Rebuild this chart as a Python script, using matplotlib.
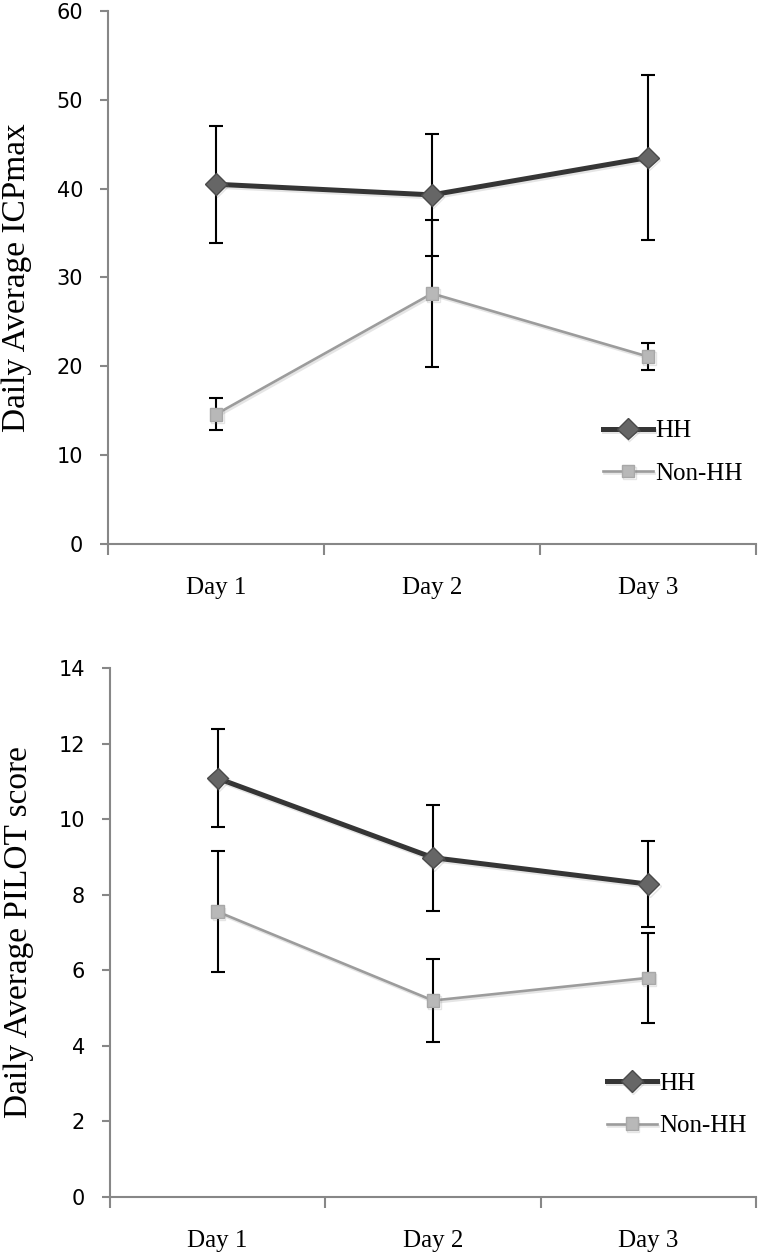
import matplotlib
matplotlib.use("Agg")
import matplotlib.pyplot as plt
import matplotlib.patheffects as pe

# Values (mean and error half-width)
days = ["Day 1", "Day 2", "Day 3"]

icp_hh = [40.5, 39.3, 43.5]
icp_hh_err = [6.6, 6.9, 9.3]
icp_non = [14.6, 28.2, 21.1]
icp_non_err = [1.8, 8.3, 1.5]

pilot_hh = [11.08, 8.98, 8.28]
pilot_hh_err = [1.3, 1.4, 1.13]
pilot_non = [7.55, 5.2, 5.8]
pilot_non_err = [1.6, 1.1, 1.2]

icp_ticks = [0, 10, 20, 30, 40, 50, 60]
pilot_ticks = [0, 2, 4, 6, 8, 10, 12, 14]

serif = ["Liberation Serif", "DejaVu Serif"]
axis_grey = "#878787"

fig = plt.figure(figsize=(7.6, 12.55), dpi=100)

ax1 = fig.add_axes([108/760, 1 - 544/1255, (756 - 108)/760, (544 - 11)/1255])
ax2 = fig.add_axes([110/760, 1 - 1197/1255, (756 - 110)/760, (1197 - 668)/1255])


def draw_panel(ax, hh, hh_err, non, non_err, ticks, ylabel, label_x, leg_anchor):
    x = list(range(1, len(days) + 1))
    shadow = [pe.SimpleLineShadow(offset=(1, -1.5), shadow_color="grey", alpha=0.2), pe.Normal()]

    # error bars underneath the lines
    ax.errorbar(x, hh, yerr=hh_err, fmt="none", ecolor="black",
                elinewidth=1.5, capsize=5, capthick=1.5, zorder=2)
    ax.errorbar(x, non, yerr=non_err, fmt="none", ecolor="black",
                elinewidth=1.5, capsize=5, capthick=1.5, zorder=2)

    ax.plot(x, hh, color="#353535", lw=3.6, marker="D", markersize=11,
            markerfacecolor="#666666", markeredgecolor="#4a4a4a", markeredgewidth=1,
            label="HH", zorder=4, path_effects=shadow)
    ax.plot(x, non, color="#9c9c9c", lw=1.9, marker="s", markersize=9,
            markerfacecolor="#b8b8b8", markeredgecolor="#a8a8a8", markeredgewidth=1,
            label="Non-HH", zorder=3, path_effects=shadow)

    ax.set_xlim(0.5, len(days) + 0.5)
    ax.set_ylim(ticks[0], ticks[-1])
    ax.set_yticks(ticks)
    ax.set_yticklabels([str(t) for t in ticks], fontsize=15, family="DejaVu Sans")

    # category boundaries as ticks, labels in the middle
    ax.set_xticks([i + 0.5 for i in range(len(days) + 1)])
    ax.set_xticklabels([])
    ax.set_xticks(x, minor=True)
    ax.set_xticklabels(days, minor=True, fontsize=18, family=serif)
    ax.tick_params(axis="x", which="major", length=8, width=1.5, color=axis_grey, direction="out")
    ax.tick_params(axis="x", which="minor", length=0, pad=24)
    ax.tick_params(axis="y", length=6, width=1.5, color=axis_grey, pad=12)

    for side in ["top", "right"]:
        ax.spines[side].set_visible(False)
    for side in ["left", "bottom"]:
        ax.spines[side].set_color(axis_grey)
        ax.spines[side].set_linewidth(1.5)

    ax.text(label_x, 0.5, ylabel, transform=ax.transAxes, rotation=90,
            rotation_mode="anchor", ha="center", va="baseline",
            fontsize=24, family=serif)

    leg = ax.legend(loc="center left", bbox_to_anchor=leg_anchor, frameon=False,
                    prop={"family": serif, "size": 18}, handlelength=2.0,
                    handletextpad=0.1, borderpad=0, borderaxespad=0, labelspacing=0.8)
    return leg


draw_panel(ax1, icp_hh, icp_hh_err, icp_non, icp_non_err, icp_ticks,
           "Daily Average ICPmax", (25 - 108) / 648, (0.764, 0.172))
draw_panel(ax2, pilot_hh, pilot_hh_err, pilot_non, pilot_non_err, pilot_ticks,
           "Daily Average PILOT score", (27 - 110) / 646, (0.769, 0.174))

fig.savefig("out.png", dpi=100)
